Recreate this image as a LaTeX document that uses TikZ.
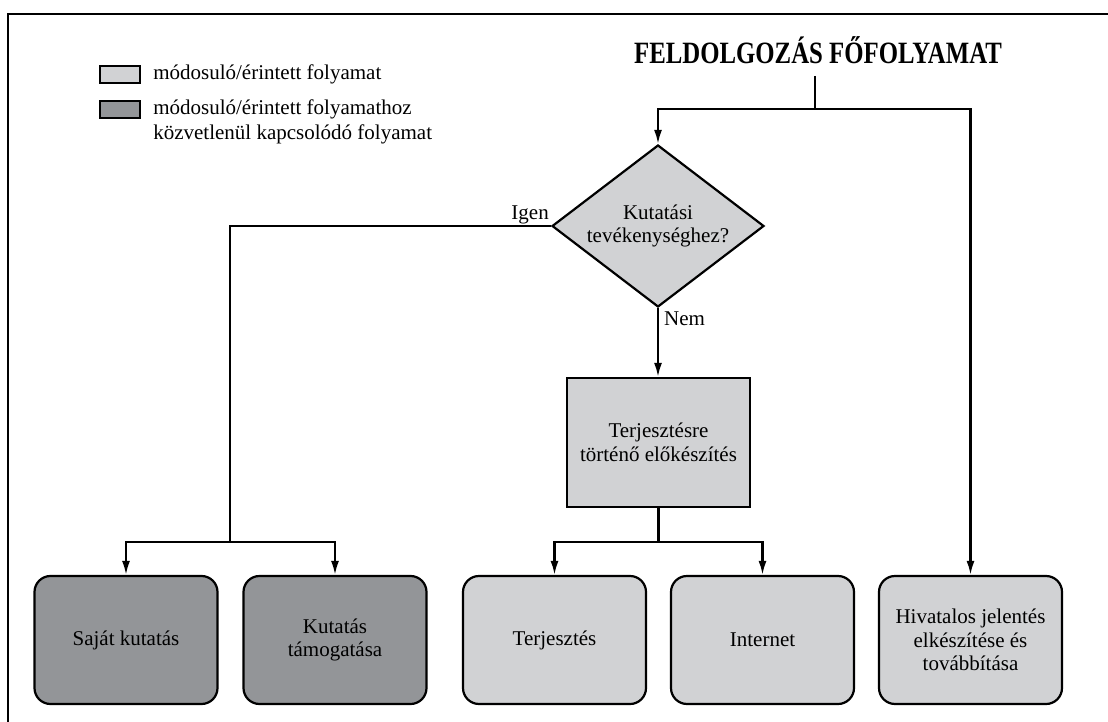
\documentclass[tikz,border=0pt]{standalone}
\usepackage{fontspec}
\setmainfont{Liberation Serif}
\usetikzlibrary{shapes.geometric,
                arrows.meta,
                positioning}
\definecolor{lightproc}{HTML}{D1D2D4}
\definecolor{darkproc}{HTML}{939598}
\tikzset{process/.style =
   {rectangle,
    rounded corners=16pt,
    draw,
    line width=2.2pt,
    align=center,
    minimum width=183pt,
    minimum height=128pt,
    font=\fontsize{21}{23.5}\selectfont}}
\tikzset{decision/.style =
   {diamond,
    draw,
    fill=lightproc,
    line width=2.2pt,
    align=center,
    inner sep=0pt,
    aspect=1.31,
    minimum width=212pt,
    minimum height=162pt,
    font=\fontsize{21}{23.5}\selectfont}}
\tikzset{prepbox/.style =
   {rectangle,
    draw,
    fill=lightproc,
    line width=2.2pt,
    align=center,
    minimum width=183pt,
    minimum height=129pt,
    font=\fontsize{21}{23.5}\selectfont}}
\tikzset{legendbox/.style =
   {rectangle,
    draw,
    line width=2.2pt,
    minimum width=40pt,
    minimum height=17pt,
    inner sep=0pt}}
\tikzset{legendtext/.style =
   {align=left,
    inner sep=0pt,
    font=\fontsize{21}{25}\selectfont}}
\tikzset{link/.style = {draw, line width=2.2pt}}
\tikzset{arrow/.style = {draw, line width=2.2pt, -{Latex[length=14pt,width=8pt]}}}

\begin{document}
\begin{tikzpicture}[x=1pt,y=1pt]

    \useasboundingbox (0,0) rectangle (1108,-722);
    \draw [line width=2.5pt] (8,-722) -- (8,-14) -- (1108,-14);

    % legend
    \node [legendbox, fill=lightproc] (legA) at (120,-74.5) {};
    \node [legendtext, right = 12pt of legA] (legAtext)
          {módosuló/érintett folyamat};
    \node [legendbox, fill=darkproc] (legB) at (120,-109.5) {};
    \node [legendtext,
           anchor=north west] (legBtext) at ([xshift=12pt]legB.north east)
          {módosuló/érintett folyamathoz\\közvetlenül kapcsolódó folyamat};

    \node [font=\bfseries\fontsize{31}{36}\selectfont,
           xscale=0.8, transform shape,
           anchor=base] (title) at (818,-64) {FELDOLGOZÁS FŐFOLYAMAT};

    \coordinate (split) at (815,-109);

    \node [decision] (dec) at (658,-226) {Kutatási\\tevékenységhez?};

    \node [prepbox] (prep) at (658.5,-442.5)
          {Terjesztésre\\történő előkészítés};

    % bottom row
    \node [process, fill=darkproc] (own) at (126,-640) {Saját kutatás};
    \node [process, fill=darkproc] (support) at (335,-640)
          {Kutatás\\támogatása};
    \node [process, fill=lightproc] (dist) at (554.5,-640) {Terjesztés};
    \node [process, fill=lightproc] (web) at (762.5,-640) {Internet};
    \node [process, fill=lightproc] (report) at (970.5,-640)
          {Hivatalos jelentés\\elkészítése és\\továbbítása};

    \coordinate (ljoin) at (230,-542);
    \coordinate (mjoin) at (658.5,-542);

    \draw [link] ([yshift=-8pt]title.south -| split) -- (split);
    \draw [arrow] (split) -| (dec.north);
    \draw [arrow] (split) -| (report.north);

    \draw [link] (dec.west) -| (ljoin)
      node [pos=0, anchor=south east, inner sep=1pt,
            font=\fontsize{21}{23.5}\selectfont] {Igen};
    \draw [arrow] (ljoin) -| (own.north);
    \draw [arrow] (ljoin) -| (support.north);

    \draw [arrow] (dec.south) -- (dec.south |- prep.north)
      node [pos=0, anchor=north west, inner sep=3pt, xshift=2pt,
            font=\fontsize{21}{23.5}\selectfont] {Nem};
    \draw [link] (prep.south) -- (mjoin);
    \draw [arrow] (mjoin) -| (dist.north);
    \draw [arrow] (mjoin) -| (web.north);

\end{tikzpicture}
\end{document}
